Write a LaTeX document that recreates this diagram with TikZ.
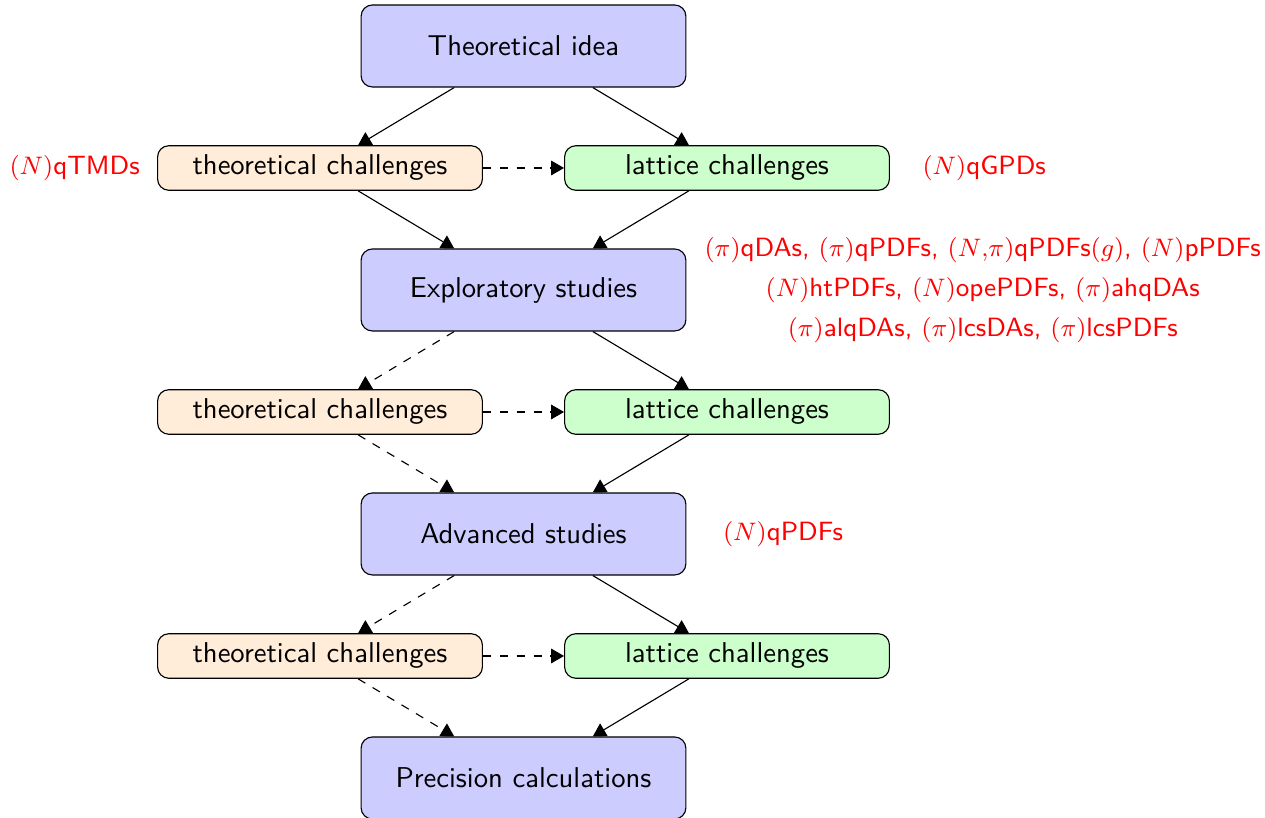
\documentclass[tikz,border=0pt]{standalone}
\usepackage{tikz}
\usetikzlibrary{arrows.meta,positioning}
\definecolor{stageblue}{HTML}{CCCCFF}
\definecolor{theoorange}{HTML}{FFECD9}
\definecolor{latgreen}{HTML}{CCFFCC}

\begin{document}
\begin{tikzpicture}[>={Triangle[length=4.6pt,width=5.2pt]},
  font=\sffamily\fontsize{10.2}{12.2}\selectfont]
  \tikzset{
    bigbox/.style={draw,fill=stageblue,rounded corners=4pt,
      minimum width=4.06cm,minimum height=1.025cm},
    theobox/.style={draw,fill=theoorange,rounded corners=4pt,
      minimum width=4.06cm,minimum height=0.55cm},
    latbox/.style={theobox,fill=latgreen},
    lbl/.style={text=red,inner sep=0pt,
      font=\sffamily\fontsize{9.4}{14.2}\selectfont}
  }
  \useasboundingbox (-6.544,0.575) rectangle (9.269,-9.65);

  % Stages
  \node[bigbox] (idea) at (0,0) {Theoretical idea};
  \node[bigbox] (expl) at (0,-3.05) {Exploratory studies};
  \node[bigbox] (adv) at (0,-6.1) {Advanced studies};
  \node[bigbox] (prec) at (0,-9.15) {Precision calculations};

  % Challenges
  \foreach \r/\y in {1/-1.525,2/-4.575,3/-7.625}{
    \node[theobox] (tc\r) at (-2.544,\y) {theoretical challenges};
    \node[latbox] (lc\r) at (2.544,\y) {lattice challenges};
    \draw[->,dashed] (tc\r) -- (lc\r);
  }

  % Flow
  \draw[->] (idea) -- (tc1);
  \draw[->] (idea) -- (lc1);
  \draw[->] (tc1) -- (expl);
  \draw[->] (lc1) -- (expl);
  \draw[->,dashed] (expl) -- (tc2);
  \draw[->] (expl) -- (lc2);
  \draw[->,dashed] (tc2) -- (adv);
  \draw[->] (lc2) -- (adv);
  \draw[->,dashed] (adv) -- (tc3);
  \draw[->] (adv) -- (lc3);
  \draw[->,dashed] (tc3) -- (prec);
  \draw[->] (lc3) -- (prec);

  % Examples
  \node[lbl,left=0.21cm of tc1] (tmd) {$(N)$qTMDs};
  \node[lbl,right=0.4cm of lc1] (gpd) {$(N)$qGPDs};
  \node[lbl,right=0.22cm of expl,align=center] (explist)
    {$(\pi)$qDAs, $(\pi)$qPDFs, $(N{,}\pi)$qPDFs$(g)$, $(N)$pPDFs\\
     $(N)$htPDFs, $(N)$opePDFs, $(\pi)$ahqDAs\\
     $(\pi)$alqDAs, $(\pi)$lcsDAs, $(\pi)$lcsPDFs};
  \node[lbl,right=0.45cm of adv] (pdf) {$(N)$qPDFs};
\end{tikzpicture}
\end{document}
